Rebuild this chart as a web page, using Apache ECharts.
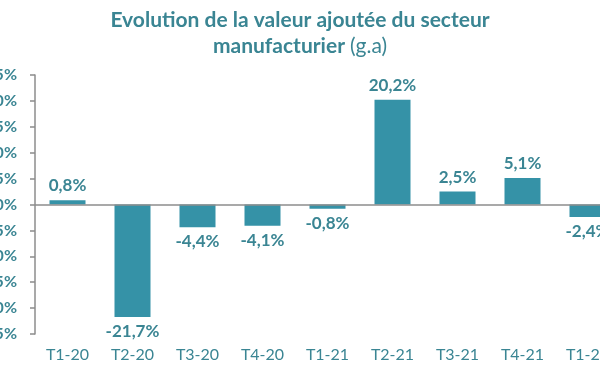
<!DOCTYPE html>
<html>
<head>
<meta charset="utf-8">
<script src="https://cdn.jsdelivr.net/npm/echarts@6/dist/echarts.min.js"></script>
<style>html,body{margin:0;padding:0;background:#fff;}#c{width:600px;height:372px;}</style>
</head>
<body>
<div id="c"></div>
<script>
var categories = ['T1-20','T2-20','T3-20','T4-20','T1-21','T2-21','T3-21','T4-21','T1-22'];
var values = [0.8, -21.7, -4.4, -4.1, -0.8, 20.2, 2.5, 5.1, -2.4];
var titleLine1 = 'Evolution de la valeur ajoutée du secteur';
var titleLine2a = 'manufacturier';
var titleLine2b = '(g.a)';

var teal = '#3a8593';
var barColor = '#3592a7';
var font = 'Lato';

var chart = echarts.init(document.getElementById('c'), null, {renderer: 'canvas'});
var data = values.map(function(v){
  return {value: v, label: {position: v < 0 ? 'bottom' : 'top'}};
});
chart.setOption({
  animation: false,
  title: {
    text: '{b|' + titleLine1 + '}\n{b|' + titleLine2a + '} {n|' + titleLine2b + '}',
    left: 'center',
    top: 2,
    textStyle: {
      rich: {
        b: {fontFamily: font, fontWeight: 'bold', fontSize: 21, color: teal, lineHeight: 26},
        n: {fontFamily: font, fontWeight: 'normal', fontSize: 21, color: teal, lineHeight: 26}
      }
    }
  },
  grid: {left: 35, top: 75, width: 585, bottom: 38, containLabel: false, outerBoundsMode: 'none'},
  xAxis: {
    type: 'category',
    data: categories,
    axisLine: {show: false},
    axisTick: {show: false},
    axisLabel: {color: teal, fontFamily: font, fontSize: 16, margin: 13}
  },
  yAxis: {
    type: 'value',
    min: -25, max: 25, interval: 5,
    splitLine: {show: false},
    axisLine: {show: true, lineStyle: {color: '#8c8c8c', width: 1.5}},
    axisTick: {show: true, length: 5, lineStyle: {color: '#8c8c8c', width: 1.5}},
    axisLabel: {color: teal, fontFamily: font, fontWeight: 'bold', fontSize: 16, margin: 18,
      formatter: function(v){ return v + '%'; }}
  },
  series: [{
    type: 'bar',
    data: data,
    barWidth: 36,
    itemStyle: {color: barColor},
    label: {
      show: true,
      fontFamily: font, fontWeight: 'bold', fontSize: 17, color: teal,
      distance: 6,
      formatter: function(p){ return String(p.value).replace('.', ',') + '%'; }
    },
    markLine: {
      silent: true, symbol: 'none',
      label: {show: false},
      lineStyle: {color: '#8c8c8c', width: 1.5, type: 'solid'},
      data: [{yAxis: 0}]
    }
  }]
});
</script>
</body>
</html>
